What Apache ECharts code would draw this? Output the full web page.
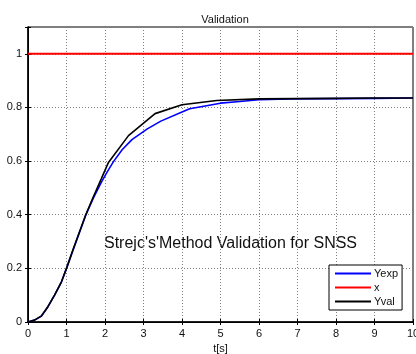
<!DOCTYPE html>
<html>
<head>
<meta charset="utf-8">
<script src="https://cdn.jsdelivr.net/npm/echarts@6/dist/echarts.min.js"></script>
<style>
  html, body { margin: 0; padding: 0; background: #fff; }
  #chart { width: 416px; height: 354px; }
</style>
</head>
<body>
<div id="chart"></div>
<script>
// Measured step response (Yexp)
const tExp = [0, 0.17, 0.35, 0.52, 0.69, 0.87, 1.0, 1.17, 1.5, 1.7, 1.9, 2.05, 2.22, 2.45, 2.7, 3.1, 3.45, 4.0, 4.2, 5.0, 5.5, 6.0, 6.8, 8.0, 9.0, 10.0];
const yExp = [0, 0.007, 0.022, 0.057, 0.10, 0.15, 0.20, 0.268, 0.398, 0.463, 0.52, 0.558, 0.598, 0.643, 0.68, 0.72, 0.749, 0.783, 0.795, 0.816, 0.822, 0.829, 0.832, 0.833, 0.834, 0.835];

// Unit step input (x)
const tIn = [0, 10];
const yIn = [1, 1];

// Strejc model response (Yval)
const tVal = [0, 0.17, 0.35, 0.52, 0.69, 0.87, 1.0, 1.17, 1.5, 1.7, 1.9, 2.09, 2.61, 3.3, 4.0, 4.9, 6.0, 7.0, 8.0, 9.0, 10.0];
const yVal = [0, 0.007, 0.023, 0.058, 0.10, 0.15, 0.20, 0.27, 0.40, 0.468, 0.533, 0.595, 0.695, 0.777, 0.81, 0.826, 0.832, 0.833, 0.834, 0.835, 0.835];

const seriesNames = ['Yexp', 'x', 'Yval'];
const seriesColors = ['#0000ff', '#ff0000', '#000000'];

const xTicks = { min: 0, max: 10, interval: 1 };
const yTicks = { min: 0, max: 1.1, interval: 0.2 };

const FONT = 'Liberation Sans, Arial, Helvetica, sans-serif';

const pairs = (ts, ys) => ts.map((t, i) => [t, ys[i]]);

const gridLine = { show: true, lineStyle: { color: '#808080', width: 1, type: [1, 2] } };
const labelStyle = { color: '#111', fontFamily: FONT, fontSize: 11 };

const chart = echarts.init(document.getElementById('chart'), null, { renderer: 'canvas' });

chart.setOption({
  animation: false,
  backgroundColor: '#fff',
  title: {
    text: 'Validation',
    left: 220, top: 9, textAlign: 'center',
    textStyle: { fontFamily: FONT, fontSize: 11, fontWeight: 'normal', color: '#111' }
  },
  grid: {
    left: 28, right: 3, top: 27, bottom: 32,
    outerBoundsMode: 'none', containLabel: false,
    show: true, borderColor: '#000', borderWidth: 1, backgroundColor: 'transparent'
  },
  xAxis: [{
    type: 'value', min: xTicks.min, max: xTicks.max, interval: xTicks.interval,
    name: 't[s]', nameLocation: 'middle', nameGap: 20,
    nameTextStyle: { fontFamily: FONT, fontSize: 11, color: '#111' },
    axisLine: { show: true, lineStyle: { color: '#000', width: 1.5 } },
    axisTick: { show: true, inside: true, length: 3, lineStyle: { color: '#000' } },
    axisLabel: Object.assign({ margin: 6 }, labelStyle),
    splitLine: gridLine
  }, {
    type: 'value', position: 'top', min: xTicks.min, max: xTicks.max, interval: xTicks.interval,
    axisLine: { show: true, lineStyle: { color: '#000', width: 1 } },
    axisTick: { show: true, inside: true, length: 3, lineStyle: { color: '#000' } },
    axisLabel: { show: false }, splitLine: { show: false }
  }],
  yAxis: [{
    type: 'value', min: yTicks.min, max: yTicks.max, interval: yTicks.interval,
    axisLine: { show: true, lineStyle: { color: '#000', width: 1.5 } },
    axisTick: { show: true, inside: true, length: 3, lineStyle: { color: '#000' } },
    axisLabel: Object.assign({
      margin: 6,
      formatter: v => (v > 1.05 ? '' : String(Math.round(v * 10) / 10))
    }, labelStyle),
    splitLine: gridLine
  }, {
    type: 'value', position: 'right', min: yTicks.min, max: yTicks.max, interval: yTicks.interval,
    axisLine: { show: true, lineStyle: { color: '#000', width: 1 } },
    axisTick: { show: true, inside: true, length: 3, lineStyle: { color: '#000' } },
    axisLabel: { show: false }, splitLine: { show: false }
  }],
  legend: {
    left: 329, top: 265, width: 79,
    orient: 'vertical',
    icon: 'rect', itemWidth: 36, itemHeight: 2, itemGap: 3,
    padding: [3, 4, 3, 6],
    backgroundColor: '#fff', borderColor: '#000', borderWidth: 1,
    textStyle: { fontFamily: FONT, fontSize: 11, color: '#111', padding: [0, 0, 0, -2] },
    data: seriesNames
  },
  graphic: [{
    type: 'text', left: 104, top: 236,
    style: { text: "Strejc's'Method Validation for SNSS", fontFamily: FONT, fontSize: 16, fill: '#111' }
  }],
  series: [
    { name: seriesNames[0], type: 'line', data: pairs(tExp, yExp), showSymbol: false, symbol: 'none',
      lineStyle: { color: seriesColors[0], width: 1.6 }, itemStyle: { color: seriesColors[0] } },
    { name: seriesNames[1], type: 'line', data: pairs(tIn, yIn), showSymbol: false, symbol: 'none',
      lineStyle: { color: seriesColors[1], width: 2 }, itemStyle: { color: seriesColors[1] } },
    { name: seriesNames[2], type: 'line', data: pairs(tVal, yVal), showSymbol: false, symbol: 'none',
      lineStyle: { color: seriesColors[2], width: 1.6 }, itemStyle: { color: seriesColors[2] } }
  ]
});
</script>
</body>
</html>
